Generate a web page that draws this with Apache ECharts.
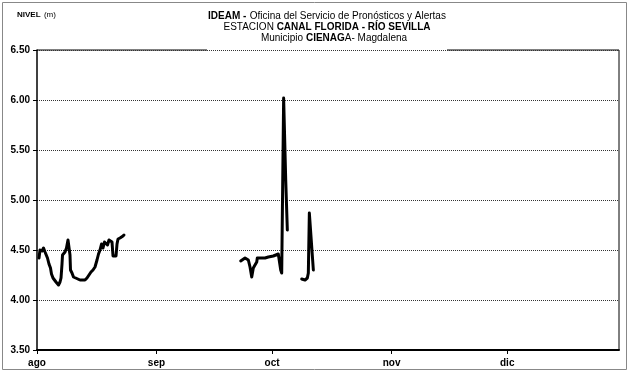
<!DOCTYPE html>
<html>
<head>
<meta charset="utf-8">
<script src="https://cdn.jsdelivr.net/npm/echarts@6/dist/echarts.min.js"></script>
<style>html,body{margin:0;padding:0;background:#fff}#c{width:630px;height:373px}</style>
</head>
<body>
<div id="c"></div>
<script>
// Days since 1 August (fractional), and water level (m). null = gap in record.
var days = [0.52,0.78,1.30,1.69,2.08,2.46,2.72,3.11,3.50,3.76,4.15,4.54,4.93,5.32,5.58,5.97,6.23,6.49,6.62,6.88,7.27,7.65,8.04,8.43,8.56,8.69,9.08,9.47,9.86,11.16,12.45,12.97,13.49,14.01,14.53,15.05,15.57,15.96,16.35,16.74,17.13,17.51,17.90,18.29,18.68,19.07,19.46,19.72,20.11,20.50,20.76,21.02,21.54,21.93,22.31,22.57,
  40,
  52.85,53.97,54.83,55.27,55.71,55.97,56.12,56.56,57.01,57.16,57.86,58.30,59.16,60.02,61.31,62.61,63.05,63.23,63.49,63.91,63.99,64.53,64.95,
  67,
  68.68,69.54,70.14,70.40,70.66,71.02,71.70];
var levels = [4.42,4.50,4.49,4.52,4.48,4.50,4.42,4.36,4.32,4.26,4.22,4.21,4.18,4.20,4.15,4.18,4.22,4.36,4.45,4.47,4.48,4.52,4.60,4.62,4.45,4.30,4.27,4.23,4.21,4.20,4.20,4.22,4.25,4.28,4.30,4.33,4.40,4.46,4.50,4.56,4.52,4.58,4.60,4.55,4.60,4.61,4.58,4.44,4.43,4.44,4.56,4.61,4.62,4.61,4.64,4.65,
  null,
  4.39,4.42,4.40,4.33,4.23,4.21,4.32,4.35,4.38,4.42,4.42,4.43,4.42,4.43,4.44,4.46,4.44,4.30,4.27,4.28,6.02,5.20,4.70,
  null,
  4.21,4.20,4.22,4.27,4.87,4.85,4.30];
var monthTicks = [0, 31, 61, 92, 122];
var monthLabels = ['ago', 'sep', 'oct', 'nov', 'dic'];
var yTicks = [3.5, 4.0, 4.5, 5.0, 5.5, 6.0, 6.5];

var seriesData = days.map(function (d, i) { return [d, levels[i] === null ? '-' : levels[i]]; });

var chart = echarts.init(document.getElementById('c'), null, {renderer: 'canvas'});
var FONT = '"Liberation Sans", Arial, sans-serif';
chart.setOption({
  animation: false,
  backgroundColor: '#fff',
  grid: {left: 37, right: 11, top: 50, bottom: 23, show: false},
  xAxis: {
    type: 'value', min: 0, max: 151,
    axisLine: {show: true, lineStyle: {color: '#000', width: 2}},
    axisTick: {show: true, length: 4, customValues: monthTicks, lineStyle: {color: '#000', width: 1}},
    axisLabel: {
      customValues: monthTicks, margin: 8,
      formatter: function (v) { var i = monthTicks.indexOf(v); return i >= 0 ? monthLabels[i] : ''; },
      color: '#000', fontFamily: FONT, fontWeight: 'bold', fontSize: 10
    },
    splitLine: {show: false}
  },
  yAxis: {
    type: 'value', min: yTicks[0], max: yTicks[yTicks.length - 1], interval: 0.5,
    axisLine: {show: true, lineStyle: {color: '#000', width: 1.5}},
    axisTick: {show: true, length: 4, lineStyle: {color: '#000'}},
    axisLabel: {
      formatter: function (v) { return v.toFixed(2); }, margin: 7,
      color: '#000', fontFamily: FONT, fontWeight: 'bold', fontSize: 10
    },
    splitLine: {show: true, lineStyle: {color: '#333', width: 1, type: [1, 1]}}
  },
  series: [{
    type: 'line', data: seriesData, showSymbol: false, connectNulls: false,
    lineStyle: {color: '#000', width: 3, join: 'round', cap: 'round'}
  }],
  graphic: [
    {type: 'rect', shape: {x: 2.5, y: 2.5, width: 624, height: 367}, style: {fill: 'none', stroke: '#888', lineWidth: 1}, silent: true},
    {type: 'line', shape: {x1: 37, y1: 50, x2: 207, y2: 50}, style: {stroke: '#000', lineWidth: 1}, silent: true},
    {type: 'line', shape: {x1: 447, y1: 50, x2: 619, y2: 50}, style: {stroke: '#000', lineWidth: 1}, silent: true},
    {type: 'line', shape: {x1: 619, y1: 50, x2: 619, y2: 350}, style: {stroke: '#000', lineWidth: 1}, silent: true},
    {type: 'text', x: 17, y: 15, style: {
      text: '{b|NIVEL} {n|(m)}', verticalAlign: 'middle', align: 'left',
      rich: {b: {fontFamily: FONT, fontWeight: 'bold', fontSize: 8, fill: '#000'}, n: {fontFamily: FONT, fontSize: 8, fill: '#000'}}
    }},
    {type: 'text', x: 327, y: 16, style: {
      text: '{b|IDEAM -} {n|Oficina del Servicio de Pronósticos y Alertas}', verticalAlign: 'middle', align: 'center',
      rich: {b: {fontFamily: FONT, fontWeight: 'bold', fontSize: 10, fill: '#000'}, n: {fontFamily: FONT, fontSize: 10, fill: '#000'}}
    }},
    {type: 'text', x: 327, y: 27, style: {
      text: '{n|ESTACION }{b|CANAL FLORIDA - RÍO SEVILLA}', verticalAlign: 'middle', align: 'center',
      rich: {b: {fontFamily: FONT, fontWeight: 'bold', fontSize: 10, fill: '#000'}, n: {fontFamily: FONT, fontSize: 10, fill: '#000'}}
    }},
    {type: 'text', x: 334, y: 38, style: {
      text: '{n|Municipio }{b|CIENAG}{n|A- Magdalena}', verticalAlign: 'middle', align: 'center',
      rich: {b: {fontFamily: FONT, fontWeight: 'bold', fontSize: 10, fill: '#000'}, n: {fontFamily: FONT, fontSize: 10, fill: '#000'}}
    }}
  ]
});
</script>
</body>
</html>
